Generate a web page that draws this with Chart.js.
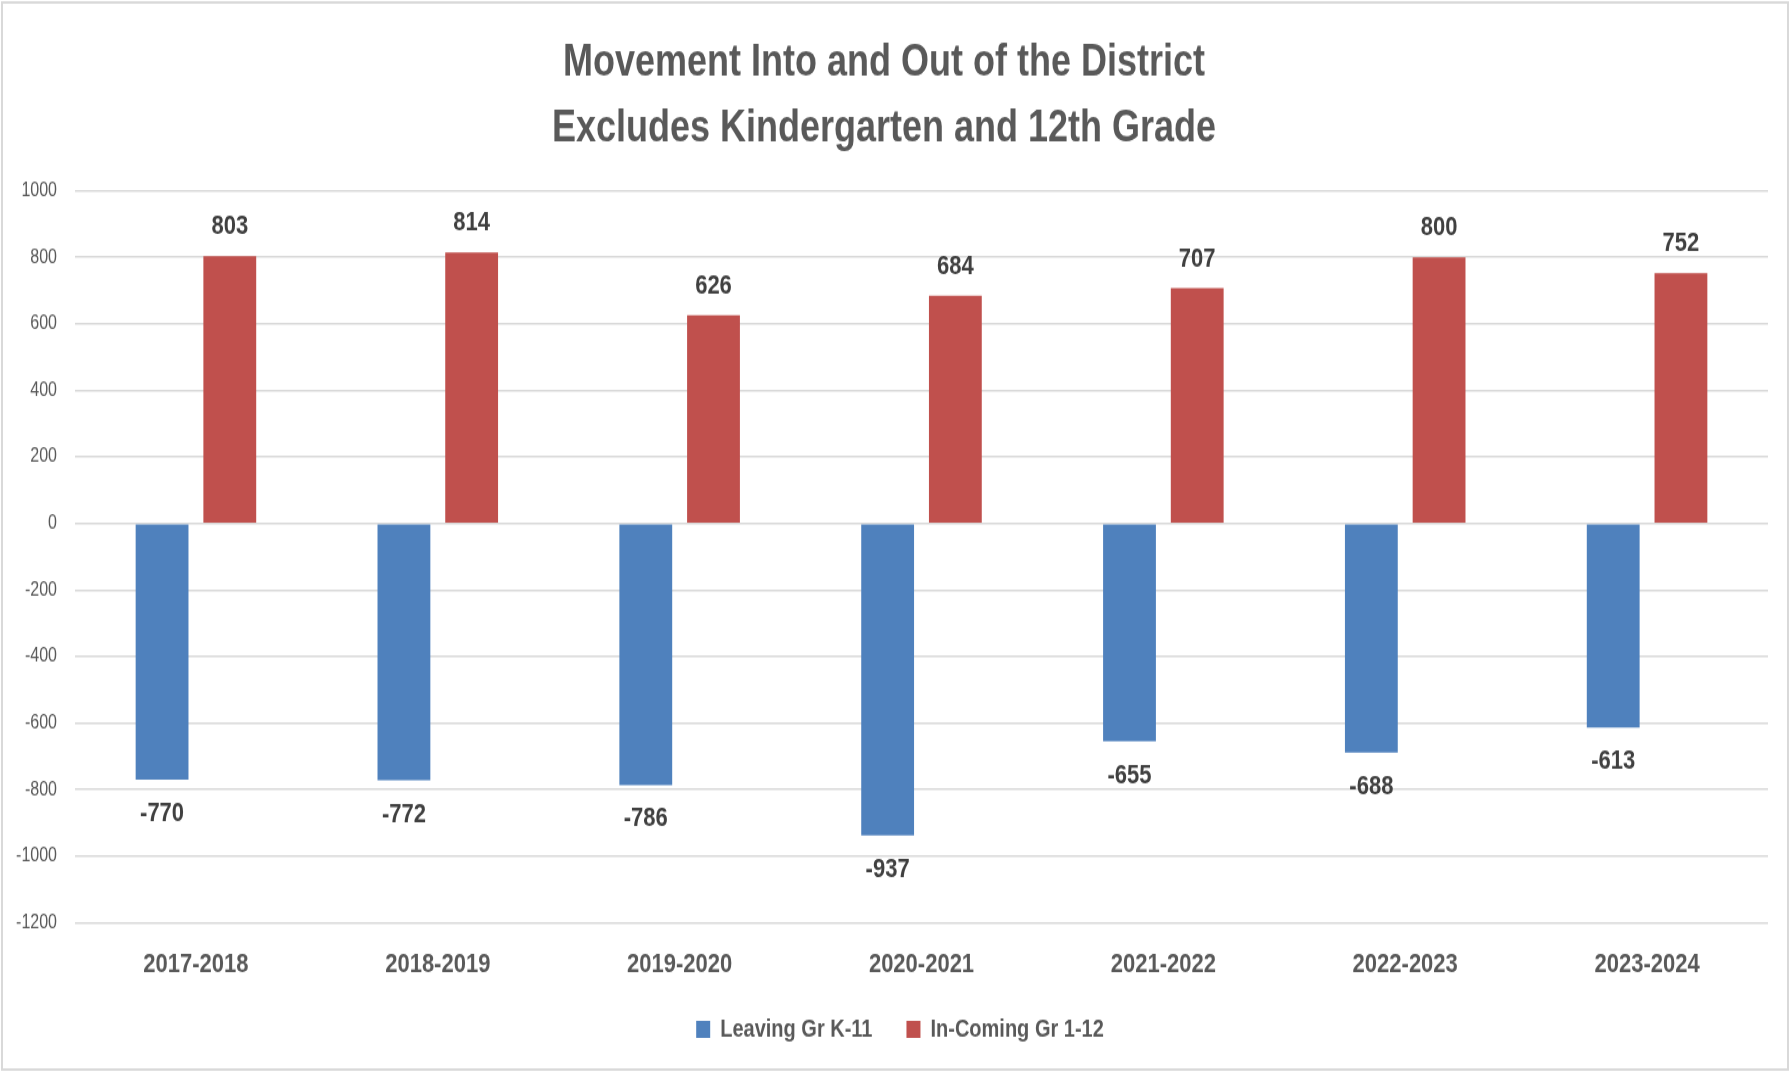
<!DOCTYPE html>
<html>
<head>
<meta charset="utf-8">
<script src="https://cdn.jsdelivr.net/npm/chart.js@4.4.1/dist/chart.umd.min.js"></script>
<style>
  body { margin: 0; background: #ffffff; }
  .page { width: 1790px; height: 1072px; position: relative; }
  /* chart is laid out short and stretched vertically, which gives the tall, narrow lettering */
  .chart-container {
    position: absolute;
    left: 0;
    top: 0;
    width: 1790px;
    height: 880px;
    transform: scaleY(1.21818);
    transform-origin: 0 0;
  }
</style>
</head>
<body>
<div class="page">
  <div class="chart-container">
    <canvas id="movementChart" width="1790" height="880"></canvas>
  </div>
</div>
<script>
// School years on the x axis
const schoolYears = ['2017-2018', '2018-2019', '2019-2020', '2020-2021', '2021-2022', '2022-2023', '2023-2024'];

// Students leaving (negative) and coming in (positive)
const leavingStudents = [-770, -772, -786, -937, -655, -688, -613];
const incomingStudents = [803, 814, 626, 684, 707, 800, 752];

const seriesNames = ['Leaving Gr K-11', 'In-Coming Gr 1-12'];
const titleLines = ['Movement Into and Out of the District', 'Excludes Kindergarten and 12th Grade'];

// y axis range
const yMin = -1200;
const yMax = 1000;
const yStep = 200;

const FONT = "'Liberation Sans', Arial, sans-serif";

// White background and thin frame round the whole chart
const framePlugin = {
    id: 'frame',
    beforeDraw(chart) {
        const ctx = chart.ctx;
        ctx.save();
        ctx.fillStyle = '#ffffff';
        ctx.fillRect(0, 0, chart.width, chart.height);
        ctx.strokeStyle = '#d9d9d9';
        ctx.lineWidth = 2;
        ctx.strokeRect(2, 2, chart.width - 4, chart.height - 4);
        ctx.restore();
    }
};

// Nudge the legend a little to the right so it sits under the middle of the page
const legendShift = {
    id: 'legendShift',
    afterLayout(chart) {
        if (chart.legend) {
            chart.legend.left += 16;
            chart.legend.right += 16;
        }
    }
};

// Value labels above positive bars and below negative bars
const valueLabels = {
    id: 'valueLabels',
    afterDatasetsDraw(chart) {
        const ctx = chart.ctx;
        ctx.save();
        ctx.font = 'bold 22px ' + FONT;
        ctx.fillStyle = '#404040';
        ctx.textAlign = 'center';
        ctx.textBaseline = 'alphabetic';
        chart.data.datasets.forEach((ds, i) => {
            const meta = chart.getDatasetMeta(i);
            meta.data.forEach((bar, j) => {
                const v = ds.data[j];
                const y = v >= 0 ? bar.y - 18 : bar.y + 34;
                ctx.fillText(String(v), bar.x, y);
            });
        });
        ctx.restore();
    }
};

document.addEventListener('DOMContentLoaded', () => {
    const canvas = document.getElementById('movementChart').getContext('2d');

    window.movementChart = new Chart(canvas, {
        type: 'bar',
        data: {
            labels: schoolYears,
            datasets: [{
                label: seriesNames[0],
                data: leavingStudents,
                backgroundColor: '#4f81bd',
                borderWidth: 0,
                categoryPercentage: 0.56,
                barPercentage: 0.78
            }, {
                label: seriesNames[1],
                data: incomingStudents,
                backgroundColor: '#c0504d',
                borderWidth: 0,
                categoryPercentage: 0.56,
                barPercentage: 0.78
            }]
        },
        options: {
            responsive: false,
            animation: false,
            layout: {
                padding: { top: 24.5, right: 22, bottom: 15, left: 0 }
            },
            plugins: {
                title: {
                    display: true,
                    text: titleLines,
                    color: '#595959',
                    font: { family: FONT, size: 36, weight: 'bold', lineHeight: 1.514 },
                    padding: { top: 0, bottom: 23 }
                },
                legend: {
                    display: true,
                    position: 'bottom',
                    labels: {
                        color: '#595959',
                        font: { family: FONT, size: 20, weight: 'bold' },
                        boxWidth: 14,
                        boxHeight: 14,
                        padding: 34
                    }
                },
                tooltip: { enabled: false }
            },
            scales: {
                x: {
                    grid: { display: false, drawTicks: false },
                    border: { display: false },
                    ticks: {
                        color: '#595959',
                        font: { family: FONT, size: 22, weight: 'bold' },
                        padding: 21.5,
                        maxRotation: 0
                    },
                    afterFit(scale) {
                        scale.height = 43.5;
                    }
                },
                y: {
                    min: yMin,
                    max: yMax,
                    grid: { color: '#d9d9d9', lineWidth: 1.6, drawTicks: false },
                    border: { display: false },
                    ticks: {
                        stepSize: yStep,
                        color: '#595959',
                        font: { family: FONT, size: 16 },
                        padding: 18,
                        callback: (value) => String(value)
                    },
                    afterFit(scale) {
                        scale.width = 75;
                    }
                }
            }
        },
        plugins: [framePlugin, legendShift, valueLabels]
    });
});
</script>
</body>
</html>
